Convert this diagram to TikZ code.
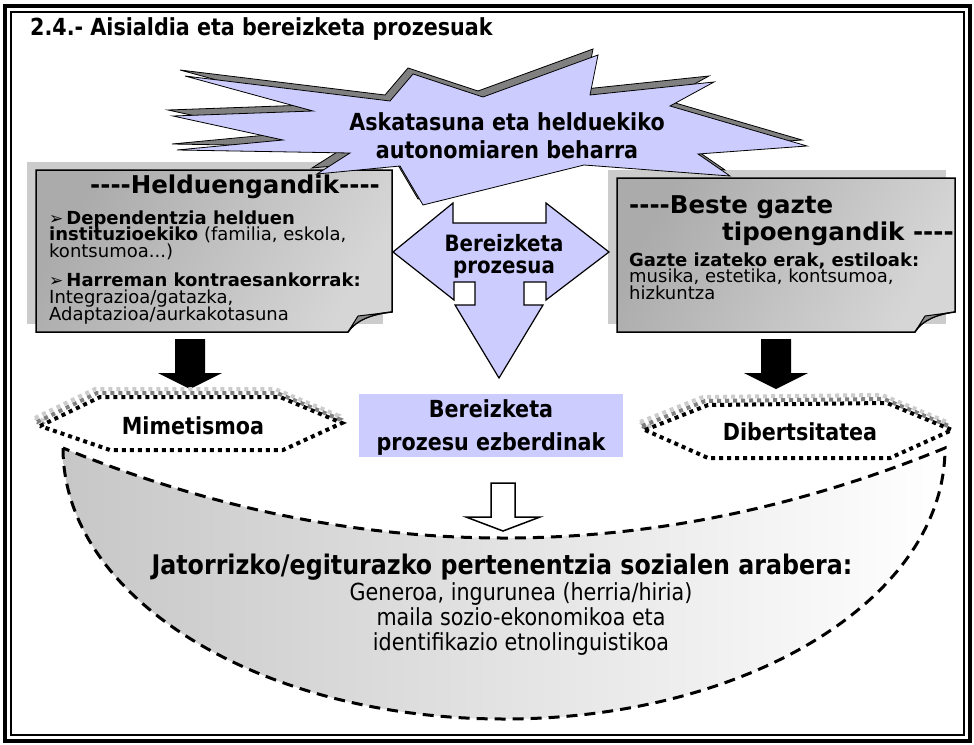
\documentclass[tikz,border=0pt]{standalone}
\usepackage{fontspec}
\setmainfont[Ligatures=TeXOff]{DejaVu Sans}
\newfontfamily\narrowfont[FakeStretch=0.88, Ligatures=TeXOff]{DejaVu Sans}
\usetikzlibrary{positioning}
\definecolor{lavender}{HTML}{CCCCFF}
\definecolor{shadowgray}{HTML}{808080}

\begin{document}
\begin{tikzpicture}[x=1pt, y=-1pt,
    big/.style={font=\fontsize{24.5}{26}\selectfont\bfseries, inner sep=0pt, anchor=base west},
    head/.style={font=\narrowfont\fontsize{23.5}{24}\selectfont\bfseries, inner sep=0pt, anchor=base},
    line/.style={font=\fontsize{18}{18}\selectfont, inner sep=0pt, anchor=base west},
    bowltext/.style={font=\narrowfont\fontsize{23.5}{24}\selectfont, inner sep=0pt, anchor=base},
    paper/.style={draw=black, line width=1.5pt, left color=black!33, middle color=black!2,
                  right color=black!16, shading angle=60},
    paperfold/.style={fill=black!45, draw=black, line width=1pt},
    papershadow/.style={fill=black!20},
    hexline/.style={line width=4pt, dash pattern=on 4pt off 4pt},
    bowlline/.style={line width=3pt, dash pattern=on 11pt off 7pt},
  ]
  \path[use as bounding box] (0,0) rectangle (974,744);

  % double frame and title
  \draw[line width=3.5pt] (5,6) rectangle (970,741);
  \draw[line width=1.5pt] (11,12) rectangle (964,735);
  \node[head, anchor=base west] (title) at (30,35) {2.4.- Aisialdia eta bereizketa prozesuak};

  % left paper: helduengandik
  \fill[papershadow] (27,162) rectangle (383,324);
  \path[paper] (36,170) -- (392,170) -- (392,312)
    .. controls (372,314) and (356,320) .. (348,332) -- (36,332) -- cycle;
  \draw[paperfold] (348,332) -- (358,316) -- (392,312)
    .. controls (372,314) and (356,320) .. (348,332) -- cycle;
  \node[big] (adults) at (90,193) {----Helduengandik----};
  \node[line] (adults1) at (49,224) {{\fontsize{17}{17}\selectfont ➢}\,\textbf{Dependentzia helduen}};
  \node[line] (adults2) at (49,240.5) {\textbf{instituzioekiko} (familia, eskola,};
  \node[line] (adults3) at (49,257) {kontsumoa...)};
  \node[line] (adults4) at (49,286.5) {{\fontsize{17}{17}\selectfont ➢}\,\textbf{Harreman kontraesankorrak:}};
  \node[line] (adults5) at (49,303.5) {Integrazioa/gatazka,};
  \node[line] (adults6) at (49,320) {Adaptazioa/aurkakotasuna};

  % right paper: beste gazteak
  \fill[papershadow] (608,170) rectangle (946,324);
  \path[paper] (617,178) -- (955,178) -- (955,312)
    .. controls (938,314) and (922,320) .. (915,332) -- (617,332) -- cycle;
  \draw[paperfold] (915,332) -- (925,316) -- (955,312)
    .. controls (938,314) and (922,320) .. (915,332) -- cycle;
  \node[big] (peers) at (629,213) {----Beste gazte};
  \node[big] (peers0) at (722,240) {tipoengandik ----};
  \node[line] (peers1) at (629,266) {\textbf{Gazte izateko erak, estiloak:}};
  \node[line] (peers2) at (629,282.5) {musika, estetika, kontsumoa,};
  \node[line] (peers3) at (629,299) {hizkuntza};

  % explosion
  \foreach \dx/\dy/\col in {-5/-6/shadowgray, 0/0/lavender} {
    \filldraw[fill=\col, draw=black, line width=0.8pt, xshift=\dx, yshift=-\dy]
      (185,76) -- (390,101) -- (413,74) -- (483,97) -- (598,55) -- (590,95)
      -- (714,82) -- (670,106) -- (807,146) -- (698,154) -- (730,176)
      -- (584,165) -- (423,205) -- (400,166) -- (317,174) -- (350,153)
      -- (177,150) -- (283,140) -- (173,116) -- (313,111) -- cycle;
  }
  \node[head] (need1) at (507,130) {Askatasuna eta helduekiko};
  \node[head] (need2) at (507,158) {autonomiaren beharra};

  % three way arrow
  \filldraw[fill=lavender, draw=black, line width=1.2pt]
    (393,252) -- (453,203) -- (453,223) -- (546,223) -- (546,203) -- (609,252)
    -- (546,300) -- (546,282) -- (524,282) -- (524,305) -- (543,305) -- (499,378)
    -- (455,305) -- (475,305) -- (475,282) -- (454,282) -- (454,300) -- cycle;
  \node[head, font=\narrowfont\fontsize{22.5}{24}\selectfont\bfseries] (proc1) at (504,251) {Bereizketa};
  \node[head, font=\narrowfont\fontsize{22.5}{24}\selectfont\bfseries] (proc2) at (504,273) {prozesua};

  % black block arrows
  \foreach \cx in {190,776} {
    \fill (\cx-15,339) -- (\cx+15,339) -- (\cx+15,373) -- (\cx+32,373)
      -- (\cx,389) -- (\cx-32,373) -- (\cx-15,373) -- cycle;
  }

  % bowl
  \path[left color=black!22, right color=white]
    (63,448) .. controls (63,598) and (260,719) .. (504,719)
    .. controls (748,719) and (945,598) .. (945,448)
    .. controls (651,568) and (357,568) .. (63,448) -- cycle;
  \draw[bowlline]
    (63,448) .. controls (63,598) and (260,719) .. (504,719)
    .. controls (748,719) and (945,598) .. (945,448)
    .. controls (651,568) and (357,568) .. (63,448) -- cycle;
  \filldraw[fill=white, draw=black, line width=1.5pt]
    (491,483) -- (515,483) -- (515,517) -- (540,517) -- (503,531)
    -- (466,517) -- (491,517) -- cycle;
  \node[head, font=\narrowfont\fontsize{27}{27}\selectfont\bfseries] (origin) at (502,574)
    {Jatorrizko/egiturazko pertenentzia sozialen arabera:};
  \node[bowltext] (origin1) at (521,600) {Generoa, ingurunea (herria/hiria)};
  \node[bowltext] (origin2) at (521,625) {maila sozio-ekonomikoa eta};
  \node[bowltext] (origin3) at (521,650) {identifikazio etnolinguistikoa};

  % middle label
  \fill[lavender] (359,394) rectangle (623,457);
  \node[head] (diff1) at (491,417) {Bereizketa};
  \node[head] (diff2) at (491,450) {prozesu ezberdinak};

  % hexagons
  \begin{scope}
    \draw[hexline, black!20, xshift=-5, yshift=8]
      (40,426) -- (100,397) -- (280,397) -- (342,423) -- (283,450) -- (110,450) -- cycle;
    \draw[hexline, black!50, xshift=-3, yshift=4]
      (40,426) -- (100,397) -- (280,397) -- (342,423) -- (283,450) -- (110,450) -- cycle;
    \filldraw[hexline, fill=white]
      (40,426) -- (100,397) -- (280,397) -- (342,423) -- (283,450) -- (110,450) -- cycle;
    \node[head] (mimic) at (193,434) {Mimetismoa};
  \end{scope}
  \begin{scope}
    \draw[hexline, black!20, xshift=-5, yshift=8]
      (645,430) -- (708,405) -- (887,403) -- (952,430) -- (890,458) -- (708,458) -- cycle;
    \draw[hexline, black!50, xshift=-3, yshift=4]
      (645,430) -- (708,405) -- (887,403) -- (952,430) -- (890,458) -- (708,458) -- cycle;
    \filldraw[hexline, fill=white]
      (645,430) -- (708,405) -- (887,403) -- (952,430) -- (890,458) -- (708,458) -- cycle;
    \node[head] (diverse) at (800,440) {Dibertsitatea};
  \end{scope}
\end{tikzpicture}
\end{document}
